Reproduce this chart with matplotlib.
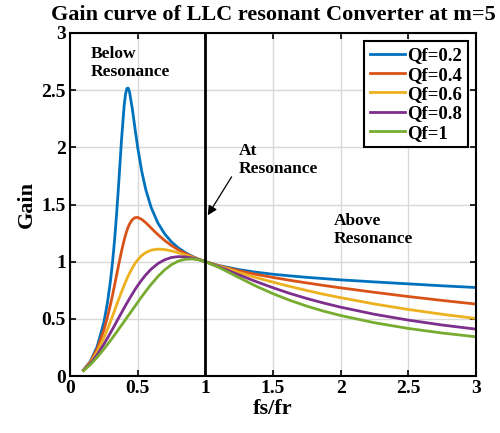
import numpy as np
import matplotlib
matplotlib.use("Agg")
import matplotlib.pyplot as plt

# normalised frequency fs/fr
fn = [0.1, 0.15, 0.2, 0.25, 0.275, 0.3, 0.315, 0.33, 0.345, 0.36, 0.38, 0.40, 0.41,
      0.42, 0.43, 0.44, 0.46, 0.48, 0.5, 0.53, 0.56, 0.6, 0.65, 0.7, 0.75, 0.8, 0.85,
      0.9, 0.95, 1.0, 1.1, 1.25, 1.375, 1.5, 1.625, 1.75, 1.875, 2.0, 2.25, 2.5, 2.75, 3.0]

# gain
gain_q02 = [0.053, 0.128, 0.255, 0.468, 0.628, 0.841, 1.004, 1.198, 1.426, 1.686, 2.054,
            2.364, 2.463, 2.514, 2.518, 2.483, 2.341, 2.167, 2.000, 1.791, 1.630, 1.473,
            1.337, 1.242, 1.173, 1.121, 1.081, 1.048, 1.022, 1.0, 0.966, 0.930, 0.908,
            0.890, 0.876, 0.863, 0.852, 0.841, 0.823, 0.806, 0.789, 0.774]
gain_q04 = [0.052, 0.123, 0.235, 0.400, 0.507, 0.630, 0.712, 0.798, 0.886, 0.975, 1.088,
            1.188, 1.232, 1.270, 1.303, 1.330, 1.367, 1.385, 1.387, 1.370, 1.341, 1.294,
            1.236, 1.185, 1.141, 1.104, 1.073, 1.045, 1.021, 1.0, 0.964, 0.920, 0.889,
            0.862, 0.837, 0.814, 0.792, 0.771, 0.732, 0.695, 0.661, 0.629]
gain_q06 = [0.051, 0.116, 0.210, 0.332, 0.403, 0.479, 0.526, 0.575, 0.623, 0.671, 0.733,
            0.793, 0.821, 0.849, 0.875, 0.899, 0.944, 0.983, 1.015, 1.054, 1.080, 1.101,
            1.110, 1.106, 1.094, 1.078, 1.060, 1.040, 1.020, 1.0, 0.961, 0.905, 0.861,
            0.821, 0.783, 0.748, 0.715, 0.685, 0.630, 0.582, 0.540, 0.503]
gain_q08 = [0.049, 0.108, 0.185, 0.277, 0.328, 0.380, 0.412, 0.444, 0.477, 0.509, 0.552,
            0.595, 0.616, 0.637, 0.657, 0.678, 0.717, 0.755, 0.791, 0.840, 0.885, 0.935,
            0.984, 1.017, 1.037, 1.044, 1.042, 1.033, 1.019, 1.0, 0.956, 0.884, 0.826,
            0.772, 0.722, 0.678, 0.638, 0.602, 0.540, 0.489, 0.446, 0.410]
gain_q1 = [0.047, 0.099, 0.163, 0.235, 0.273, 0.312, 0.336, 0.361, 0.385, 0.410, 0.443,
           0.476, 0.493, 0.510, 0.527, 0.543, 0.577, 0.611, 0.644, 0.694, 0.742, 0.802,
           0.871, 0.929, 0.974, 1.005, 1.021, 1.024, 1.017, 1.0, 0.950, 0.860, 0.786,
           0.720, 0.662, 0.611, 0.567, 0.529, 0.466, 0.416, 0.376, 0.343]

series = [gain_q02, gain_q04, gain_q06, gain_q08, gain_q1]
labels = ["Qf=0.2", "Qf=0.4", "Qf=0.6", "Qf=0.8", "Qf=1"]
colors = ["#0072BD", "#D95319", "#EDB120", "#7E2F8E", "#77AC30"]

plt.rcParams['font.family'] = ['Liberation Serif', 'DejaVu Serif']
plt.rcParams['font.weight'] = 'bold'

fig = plt.figure(figsize=(5, 4.33), dpi=100)
ax = fig.add_axes([0.14, 0.1316, 0.812, 0.7922])

for y, lab, c in zip(series, labels, colors):
    ax.plot(fn, y, color=c, lw=2, label=lab)

ax.axvline(1, color='black', lw=2)

ax.set_xlim(0, 3)
ax.set_ylim(0, 3)
ax.set_xticks(np.arange(0, 3.01, 0.5))
ax.set_yticks(np.arange(0, 3.01, 0.5))
ax.set_xticklabels(['0', '0.5', '1', '1.5', '2', '2.5', '3'])
ax.set_yticklabels(['0', '0.5', '1', '1.5', '2', '2.5', '3'])
ax.grid(True, color='#d9d9d9', lw=1)
ax.set_axisbelow(True)
ax.tick_params(direction='in', top=True, right=True, labelsize=14, width=1.2, length=4, pad=3)
for s in ax.spines.values():
    s.set_linewidth(1.5)

ax.set_xlabel('fs/fr', fontsize=16, fontweight='bold', labelpad=1)
ax.set_ylabel('Gain', fontsize=16, fontweight='bold', labelpad=3)
ax.set_title('Gain curve of LLC resonant Converter at m=5', fontsize=16, fontweight='bold', pad=9)

ax.text(0.15, 2.74, 'Below\nResonance', fontsize=12.5, fontweight='bold', va='center', linespacing=1.15)
ax.text(1.25, 1.89, 'At\nResonance', fontsize=12.5, fontweight='bold', va='center', linespacing=1.15)
ax.text(1.95, 1.28, 'Above\nResonance', fontsize=12.5, fontweight='bold', va='center', linespacing=1.15)
ax.annotate('', xy=(1.007, 1.385), xytext=(1.205, 1.763),
            arrowprops=dict(arrowstyle='-|>', color='black', lw=0.9, mutation_scale=14))

leg = ax.legend(loc='upper right', fontsize=13.5, handlelength=1.9, handletextpad=0.1,
                labelspacing=0.12, borderpad=0.3, fancybox=False, framealpha=1,
                borderaxespad=0.45)
leg.get_frame().set_edgecolor('black')
leg.get_frame().set_linewidth(1.5)

fig.savefig('out.png', dpi=100)
